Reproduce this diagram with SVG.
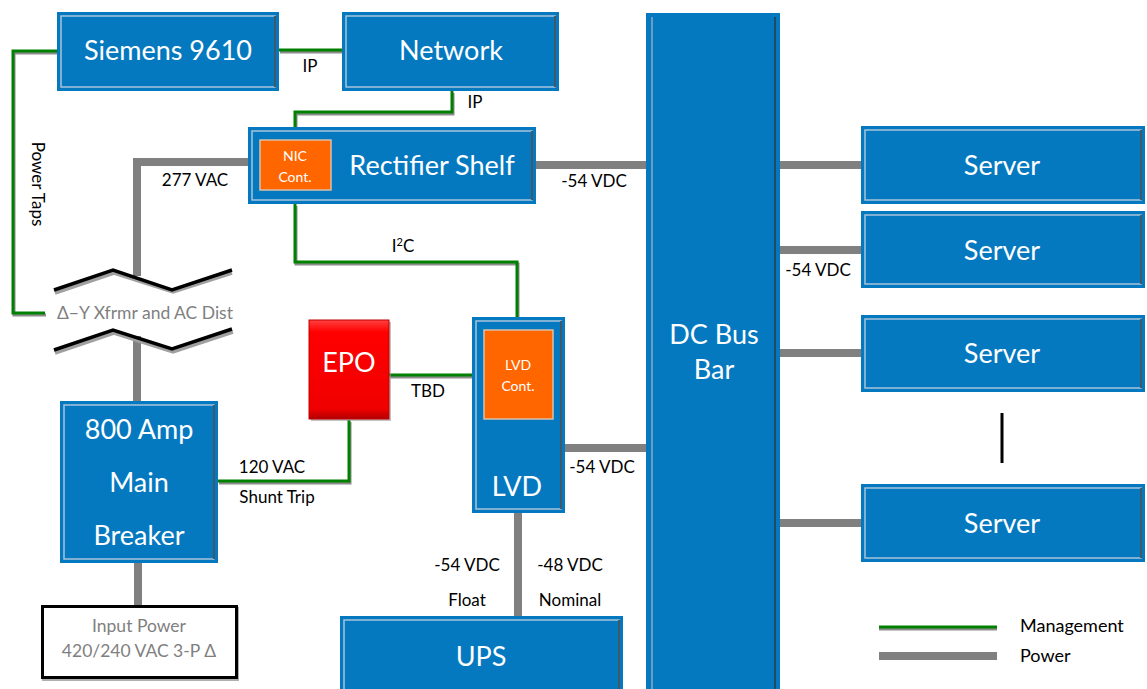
<svg xmlns="http://www.w3.org/2000/svg" width="1147" height="689" viewBox="0 0 1147 689">
<defs>
<linearGradient id="red" x1="0" y1="0" x2="0" y2="1">
<stop offset="0" stop-color="#FF4040"/><stop offset="0.12" stop-color="#FF0000"/><stop offset="0.9" stop-color="#F00000"/><stop offset="1" stop-color="#B00000"/>
</linearGradient>
<style>
.box{fill:#0579C0;}
.bev{fill:none;stroke:#A6C3DA;stroke-width:1.5;}
.dk{stroke:#2E3B46;stroke-width:1.5;}
.org{fill:#FF6600;stroke:#D9C0A8;stroke-width:1.5;}
.wt{font-family:Lato,"Liberation Sans",sans-serif;fill:#FFFFFF;text-anchor:middle;}
.big{font-size:27px;}
.sm{font-size:14px;}
.lb{font-family:Lato,"Liberation Sans",sans-serif;font-size:17px;fill:#000000;}
.lg{font-size:18px;}
.c{text-anchor:middle;}
.gt{font-family:Lato,"Liberation Sans",sans-serif;font-size:17.5px;fill:#7F7F7F;text-anchor:middle;}
.pw{fill:none;stroke:#808080;stroke-width:8;}
.mg{fill:none;stroke:#008000;stroke-width:3;}
.ms{fill:none;stroke:#8C8C8C;stroke-width:3;}
.zz{fill:none;stroke:#000000;stroke-width:3.5;}
.zs{fill:none;stroke:#A0A0A0;stroke-width:3.5;}
</style>
</defs>
<rect width="1147" height="689" fill="#FFFFFF"/>

<g id="connectors">
<polyline class="pw" points="248,162 137,162 137,276"/>
<line class="pw" x1="137" y1="336" x2="137" y2="402"/>
<line class="pw" x1="138" y1="562" x2="138" y2="606"/>
<line class="pw" x1="536" y1="165" x2="646" y2="165"/>
<line class="pw" x1="565" y1="448" x2="646" y2="448"/>
<line class="pw" x1="518" y1="513" x2="518" y2="616"/>
<line class="pw" x1="780" y1="165" x2="861" y2="165"/>
<line class="pw" x1="780" y1="250" x2="861" y2="250"/>
<line class="pw" x1="780" y1="353" x2="861" y2="353"/>
<line class="pw" x1="780" y1="523" x2="861" y2="523"/>
<g transform="translate(1,2)">
<line class="ms" x1="279" y1="50" x2="342" y2="50"/>
<polyline class="ms" points="57,51 13,51 13,313 45,313"/>
<polyline class="ms" points="452,91 452,112 295,112 295,127"/>
<polyline class="ms" points="295,204 295,262 517,262 517,317"/>
<line class="ms" x1="389" y1="375" x2="472" y2="375"/>
<polyline class="ms" points="218,481 349,481 349,420"/>
</g>
<line class="mg" x1="279" y1="50" x2="342" y2="50"/>
<polyline class="mg" points="57,51 13,51 13,313 45,313"/>
<polyline class="mg" points="452,91 452,112 295,112 295,127"/>
<polyline class="mg" points="295,204 295,262 517,262 517,317"/>
<line class="mg" x1="389" y1="375" x2="472" y2="375"/>
<polyline class="mg" points="218,481 349,481 349,420"/>
<polyline class="zs" points="55,293 114,273 173,292 232,273"/>
<polyline class="zz" points="54,290 113,270 172,290 232,270"/>
<polyline class="zs" points="55,353 114,333 173,352 233,332"/>
<polyline class="zz" points="54,350 113,330 172,349 232,329"/>
<line x1="1002" y1="413" x2="1002" y2="463" stroke="#000000" stroke-width="3"/>
<text class="lb c" x="310" y="72">IP</text>
<text class="lb c" x="475" y="108">IP</text>
<text class="lb c" x="195" y="186">277 VAC</text>
<text class="lb c" x="594" y="187">-54 VDC</text>
<text class="lb c" x="403" y="252">I<tspan font-size="11" dy="-6">2</tspan><tspan dy="6">C</tspan></text>
<text class="lb c" x="818" y="276">-54 VDC</text>
<text class="lb c" x="428" y="397">TBD</text>
<text class="lb c" x="272" y="473">120 VAC</text>
<text class="lb c" x="277" y="503">Shunt Trip</text>
<text class="lb c" x="602" y="473">-54 VDC</text>
<text class="lb c" x="467" y="571">-54 VDC</text>
<text class="lb c" x="467" y="606">Float</text>
<text class="lb c" x="570" y="571">-48 VDC</text>
<text class="lb c" x="570" y="606">Nominal</text>
<text class="lb c" transform="translate(32,184) rotate(90)" x="0" y="0" font-size="18.5">Power Taps</text>
<text class="gt" x="145" y="319">Δ−Y Xfrmr and AC Dist</text>
</g>

<g id="siemens">
<rect class="box" x="57" y="12" width="222" height="79"/>
<rect class="bev" x="61" y="16" width="214" height="71"/>
<line class="dk" x1="275" y1="16" x2="275" y2="87"/>
<text class="wt big" x="168" y="60">Siemens 9610</text>
</g>

<g id="network">
<rect class="box" x="342" y="12" width="217" height="79"/>
<rect class="bev" x="346" y="16" width="209" height="71"/>
<line class="dk" x1="555" y1="16" x2="555" y2="87"/>
<text class="wt big" x="451" y="60">Network</text>
</g>

<g id="rectifier">
<rect class="box" x="248" y="127" width="288" height="77"/>
<rect class="bev" x="252" y="131" width="280" height="69"/>
<line class="dk" x1="532" y1="131" x2="532" y2="200"/>
<rect class="org" x="260" y="140" width="71" height="50"/>
<text class="wt sm" x="295" y="161">NIC</text>
<text class="wt sm" x="295" y="182">Cont.</text>
<text class="wt big" x="432" y="175">Rectifier Shelf</text>
</g>

<g id="breaker">
<rect class="box" x="60" y="401" width="158" height="162"/>
<rect class="bev" x="64" y="405" width="150" height="154"/>
<line class="dk" x1="214" y1="405" x2="214" y2="559"/>
<text class="wt big" x="139" y="439">800 Amp</text>
<text class="wt big" x="139" y="492">Main</text>
<text class="wt big" x="139" y="545">Breaker</text>
</g>

<g id="input">
<rect x="42.5" y="606.5" width="194" height="71" fill="none" stroke="#B0B0B0" stroke-width="3" transform="translate(1,2)"/>
<rect x="42.5" y="606.5" width="194" height="71" fill="#FFFFFF" stroke="#000000" stroke-width="3"/>
<text class="gt" x="139" y="632">Input Power</text>
<text class="gt" x="139" y="657">420/240 VAC 3-P Δ</text>
</g>

<g id="epo">
<rect x="311" y="322" width="80" height="99" fill="#9A9A9A" opacity="0.6"/>
<rect x="309" y="320" width="80" height="99" fill="url(#red)" stroke="#C00000" stroke-width="1"/>
<text class="wt big" x="349" y="372">EPO</text>
</g>

<g id="lvd">
<rect class="box" x="472" y="317" width="93" height="196"/>
<rect class="bev" x="476" y="321" width="85" height="188"/>
<line class="dk" x1="561" y1="321" x2="561" y2="509"/>
<rect class="org" x="484" y="330" width="69" height="89"/>
<text class="wt sm" x="518" y="370">LVD</text>
<text class="wt sm" x="518" y="391">Cont.</text>
<text class="wt big" x="517" y="496">LVD</text>
</g>

<g id="ups">
<rect class="box" x="340" y="616" width="283" height="76"/>
<rect class="bev" x="344" y="620" width="275" height="76"/>
<line class="dk" x1="619" y1="620" x2="619" y2="689"/>
<text class="wt big" x="481" y="666">UPS</text>
</g>

<g id="dcbus">
<rect class="box" x="646" y="13" width="134" height="680"/>
<line x1="652" y1="17" x2="652" y2="689" stroke="#8FA8BF" stroke-width="1.5"/>
<line class="dk" x1="775" y1="17" x2="775" y2="689"/>
<text class="wt big" x="714" y="344">DC Bus</text>
<text class="wt big" x="714" y="379">Bar</text>
</g>

<g id="server1">
<rect class="box" x="861" y="126" width="284" height="78"/>
<rect class="bev" x="865" y="130" width="276" height="70"/>
<line class="dk" x1="1141" y1="130" x2="1141" y2="200"/>
<text class="wt big" x="1002" y="175">Server</text>
</g>
<g id="server2">
<rect class="box" x="861" y="211" width="284" height="77"/>
<rect class="bev" x="865" y="215" width="276" height="69"/>
<line class="dk" x1="1141" y1="215" x2="1141" y2="284"/>
<text class="wt big" x="1002" y="260">Server</text>
</g>
<g id="server3">
<rect class="box" x="861" y="315" width="284" height="77"/>
<rect class="bev" x="865" y="319" width="276" height="69"/>
<line class="dk" x1="1141" y1="319" x2="1141" y2="388"/>
<text class="wt big" x="1002" y="363">Server</text>
</g>
<g id="server4">
<rect class="box" x="861" y="484" width="284" height="78"/>
<rect class="bev" x="865" y="488" width="276" height="70"/>
<line class="dk" x1="1141" y1="488" x2="1141" y2="558"/>
<text class="wt big" x="1002" y="533">Server</text>
</g>

<g id="legend">
<line class="ms" x1="879" y1="629" x2="997" y2="629"/>
<line class="mg" x1="879" y1="627" x2="997" y2="627"/>
<line class="pw" x1="879" y1="656" x2="997" y2="656"/>
<text class="lb lg" x="1020" y="632">Management</text>
<text class="lb lg" x="1020" y="662">Power</text>
</g>
</svg>
